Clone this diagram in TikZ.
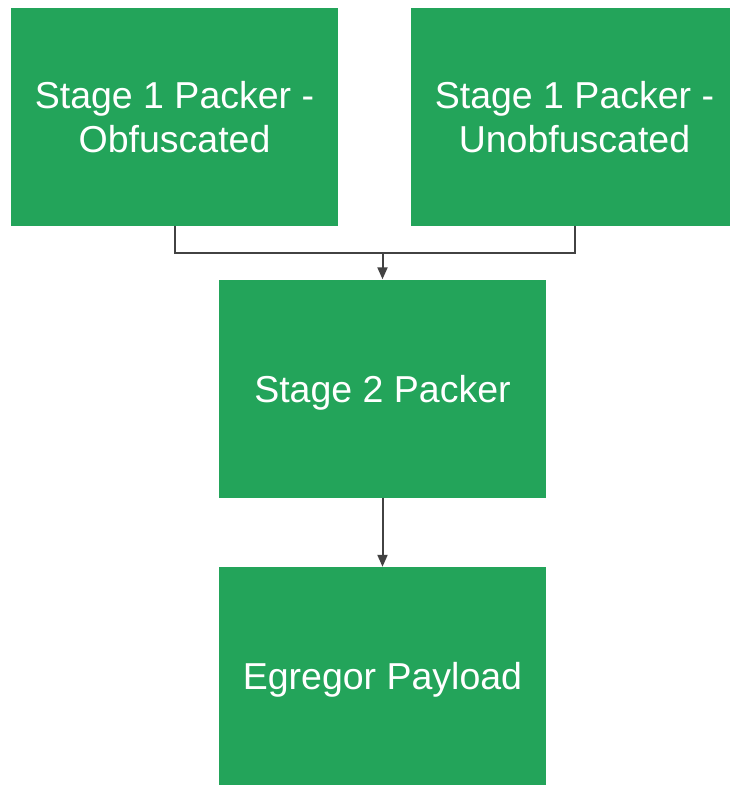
\documentclass[tikz,border=0pt]{standalone}
\usepackage{fontspec}
\setmainfont{Liberation Sans}
\usetikzlibrary{arrows.meta}
\definecolor{boxgreen}{RGB}{35,164,90}
\definecolor{linegray}{RGB}{66,66,66}

\begin{document}
\begin{tikzpicture}[x=1pt,y=-1pt,
  stagebox/.style={fill=boxgreen, text=white, align=center, inner sep=0pt,
    minimum width=327pt, minimum height=218pt,
    font=\fontsize{37.5}{44.5}\selectfont},
  oneline/.style={text depth=0pt},
  flow/.style={draw=linegray, line width=2pt},
  flowarrow/.style={flow, -{Triangle[length=12pt,width=10pt]}}]
\useasboundingbox (0,0) rectangle (730,785);
\clip (0,0) rectangle (730,785);
% Stage 1 packers
\node[stagebox] (obf) at (174.5,117) {Stage 1 Packer -\\Obfuscated};
\node[stagebox] (unobf) at (574.5,117) {Stage 1 Packer -\\Unobfuscated};
% Stage 2 and payload
\node[stagebox, oneline] (stage2) at (382.5,388.5) {Stage 2 Packer};
\node[stagebox, oneline] (payload) at (382.5,676) {Egregor Payload};
% Merge line
\coordinate (merge) at (382.5,253);
\draw[flow] (obf.south) |- (merge) -| (unobf.south);
\draw[flowarrow] (merge) -- (stage2.north);
\draw[flowarrow] (stage2.south) -- (payload.north);
\end{tikzpicture}
\end{document}
